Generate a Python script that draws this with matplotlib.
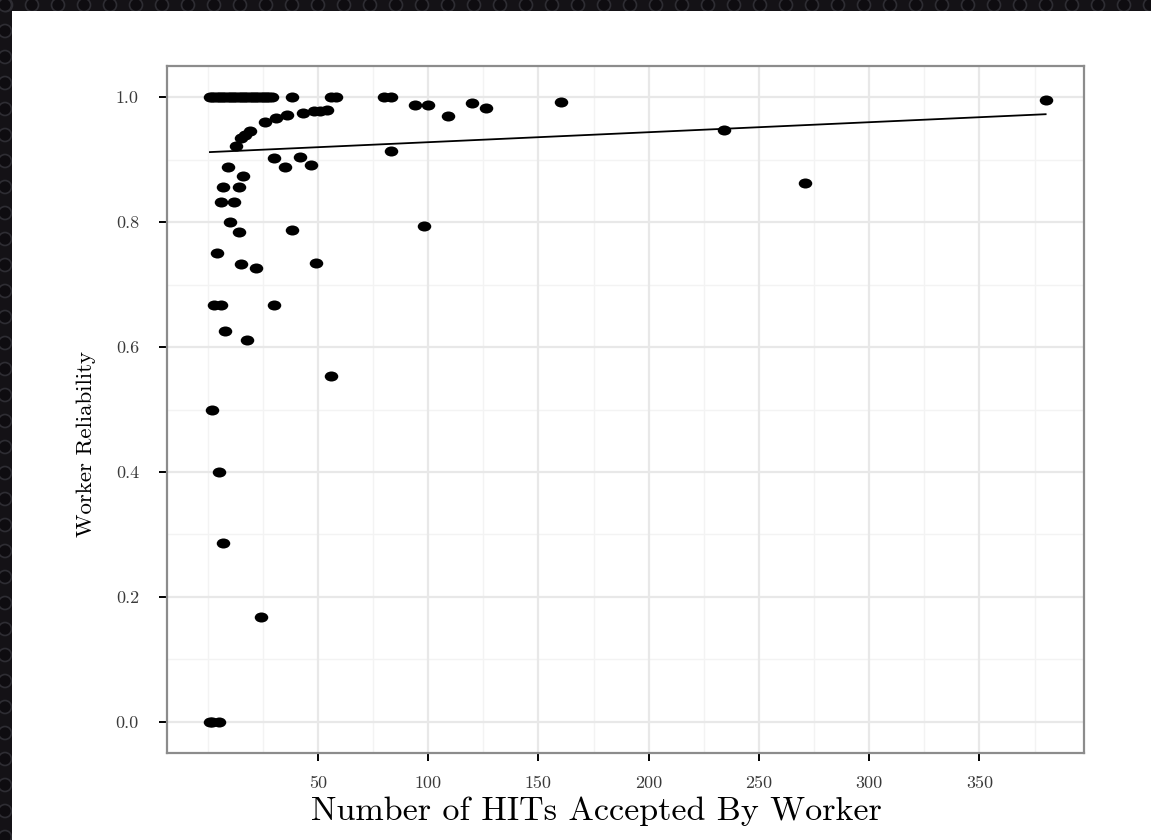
import numpy as np
import matplotlib
matplotlib.use("Agg")
import matplotlib.pyplot as plt
from matplotlib.path import Path
from matplotlib.patches import Rectangle, Circle
from matplotlib.transforms import Affine2D

# hits accepted per worker and their reliability
hits_top = [1, 2, 3, 4, 5, 6, 7, 8, 9, 10, 11, 12, 13, 14, 15, 16, 17, 18, 19, 20,
            21, 22, 23, 24, 25, 26, 27, 28, 29, 38, 56, 58, 80, 83]
rel_top = [1.0] * len(hits_top)

hits_rest = [13, 15, 17, 19, 26, 31, 36, 43, 48, 51, 54,
             83, 30, 35, 42, 47, 9, 16, 7, 14, 6, 12, 10, 14, 38, 4, 15, 22, 49,
             3, 6, 30, 8, 18, 56, 2, 5, 7, 24, 1, 2, 5,
             94, 100, 109, 120, 126, 160, 98, 234, 271, 380]
rel_rest = [0.922, 0.934, 0.939, 0.946, 0.960, 0.966, 0.971, 0.975, 0.978, 0.978, 0.979,
            0.914, 0.902, 0.888, 0.904, 0.892, 0.888, 0.874, 0.856, 0.856, 0.833, 0.833,
            0.800, 0.784, 0.788, 0.750, 0.733, 0.727, 0.734,
            0.667, 0.667, 0.667, 0.625, 0.611, 0.553, 0.500, 0.400, 0.286, 0.167, 0.0, 0.0, 0.0,
            0.987, 0.988, 0.970, 0.990, 0.982, 0.992, 0.794, 0.947, 0.862, 0.996]

hits = np.array(hits_top + hits_rest)
reliability = np.array(rel_top + rel_rest)

# linear fit as drawn in the picture
fit_intercept = 0.912
fit_slope = 0.00016

x_ticks = [50, 100, 150, 200, 250, 300, 350]
x_minor = [0, 25, 75, 125, 175, 225, 275, 325, 375]
y_ticks = [0.0, 0.2, 0.4, 0.6, 0.8, 1.0]
y_minor = [0.1, 0.3, 0.5, 0.7, 0.9]

W, H = 1151, 840
fig = plt.figure(figsize=(W / 100, H / 100), dpi=100)
fig.patch.set_facecolor("#141216")

# dark perforated frame round the page
for cx in range(6, W, 26):
    fig.patches.append(Circle((cx, H - 5), 6.5, transform=None, facecolor="#0e0c10",
                              edgecolor="#2e2d33", lw=1.2, zorder=-8))
for cy in range(H - 5, 0, -26):
    fig.patches.append(Circle((5, cy), 6.5, transform=None, facecolor="#0e0c10",
                              edgecolor="#2e2d33", lw=1.2, zorder=-8))
fig.patches.append(Rectangle((12 / W, 0), 1, 1 - 11 / H, transform=fig.transFigure,
                             facecolor="white", edgecolor="none", zorder=-5))

ax = fig.add_axes([166.7 / W, 1 - 753 / H, (1084 - 166.7) / W, (753 - 66) / H])
ax.set_zorder(2)
ax.set_facecolor("white")

# dots look slightly stretched sideways in the picture
ell = Path.unit_circle().transformed(Affine2D().scale(1.35, 1.0))
ax.scatter(hits, reliability, marker=ell, s=95, color="black", linewidths=0, zorder=3)

xs = np.array([hits.min(), hits.max()])
ax.plot(xs, fit_intercept + fit_slope * xs, color="black", lw=1.3, zorder=4)

ax.set_xlim(-18.6, 397.4)
ax.set_ylim(-0.05, 1.05)

for v in x_minor:
    ax.axvline(v, color="#f3f3f3", lw=1.0, zorder=1)
for v in y_minor:
    ax.axhline(v, color="#f3f3f3", lw=1.0, zorder=1)
for v in x_ticks:
    ax.axvline(v, color="#e8e8e8", lw=1.6, zorder=1)
for v in y_ticks:
    ax.axhline(v, color="#e8e8e8", lw=1.6, zorder=1)

ax.set_xticks(x_ticks)
ax.set_xticklabels([str(t) for t in x_ticks])
ax.set_yticks(y_ticks)
ax.set_yticklabels(["%.1f" % t for t in y_ticks])

for s in ax.spines.values():
    s.set_color("#8c8c8c")
    s.set_linewidth(1.6)

ax.tick_params(axis="both", length=6, width=1.4, color="black", labelcolor="#3a3a3a",
               labelsize=13, labelfontfamily="cmr10")
ax.tick_params(axis="x", pad=10)
ax.tick_params(axis="y", pad=14)

ax.set_xlabel("Number of HITs Accepted By Worker", fontsize=24.5, family="cmr10")
ax.xaxis.set_label_coords(0.468, -0.064)
ax.xaxis.label.set_va("top")
ax.set_ylabel("Worker Reliability", fontsize=16.5, family="cmr10")
ax.yaxis.set_label_coords(-0.077, 0.45)

fig.savefig("out.png", dpi=100, facecolor=fig.get_facecolor())
